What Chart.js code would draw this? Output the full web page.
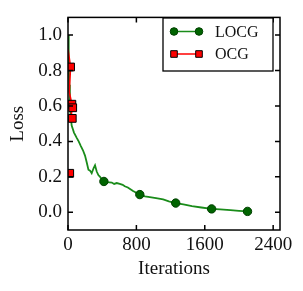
<!DOCTYPE html>
<html>
<head>
<meta charset="utf-8">
<script src="https://cdn.jsdelivr.net/npm/chart.js@4"></script>
<style>
  body { margin: 0; background: #fff; }
  canvas { display: block; }
</style>
</head>
<body>
<canvas id="lossChart" width="303" height="291"></canvas>
<script>
// LOCG loss curve (iteration, loss)
const locgIter = [0, 8, 15, 22, 30, 43, 70, 102, 125, 149, 175, 199, 220, 239, 258, 277, 300, 316, 336, 355, 375, 395, 420,
  460, 512, 540, 570, 605, 640, 664, 700, 761, 800, 840, 900, 957, 1030, 1113, 1180, 1260, 1350, 1450, 1560, 1680,
  1780, 1900, 2000, 2100];
const locgLoss = [1.0, 0.85, 0.72, 0.62, 0.55, 0.49, 0.45, 0.42, 0.40, 0.375, 0.35, 0.32, 0.28, 0.24, 0.235, 0.22, 0.25, 0.265, 0.23, 0.21, 0.20, 0.185, 0.174,
  0.17, 0.168, 0.16, 0.165, 0.16, 0.155, 0.147, 0.14, 0.12, 0.11, 0.10, 0.09, 0.086, 0.08, 0.073, 0.062, 0.052, 0.045, 0.035, 0.027, 0.019,
  0.016, 0.012, 0.008, 0.005];
const locgMarked = [420, 840, 1260, 1680, 2100];

// OCG loss (null = break in the line)
const ocgIter = [0, 30, 15, 45, 55, 40, 50, 20];
const ocgLoss = [0.92, 0.82, 0.68, 0.61, 0.59, 0.56, 0.53, null];
const ocgLast = [{ x: 20, y: 0.22 }];
const ocgMarked = [30, 45, 55, 50, 20];

const xTicks = [0, 800, 1600, 2400];
const yTicks = [0.0, 0.2, 0.4, 0.6, 0.8, 1.0];

const serif = '"Liberation Serif", "DejaVu Serif", serif';

var locgData = locgIter.map((x, i) => ({ x: x, y: locgLoss[i] }));
var ocgData = ocgIter.map((x, i) => ({ x: x, y: ocgLoss[i] })).concat(ocgLast);

// frame, inward ticks on all four sides, and the legend box
const framePlugin = {
  id: 'frame',
  afterDatasetsDraw(chart) {
    const ctx = chart.ctx;
    const a = chart.chartArea;
    const xs = chart.scales.x;
    const ys = chart.scales.y;
    ctx.save();
    ctx.strokeStyle = '#000';
    ctx.lineWidth = 1.5;
    ctx.strokeRect(a.left, a.top, a.right - a.left, a.bottom - a.top);
    ctx.beginPath();
    xTicks.forEach(v => {
      const px = xs.getPixelForValue(v);
      ctx.moveTo(px, a.bottom); ctx.lineTo(px, a.bottom - 5);
      ctx.moveTo(px, a.top); ctx.lineTo(px, a.top + 5);
    });
    yTicks.forEach(v => {
      const py = ys.getPixelForValue(v);
      ctx.moveTo(a.left, py); ctx.lineTo(a.left + 5, py);
      ctx.moveTo(a.right, py); ctx.lineTo(a.right - 5, py);
    });
    ctx.stroke();

    // legend
    const bx = 163, by = 18, bw = 110, bh = 53;
    ctx.fillStyle = '#fff';
    ctx.fillRect(bx, by, bw, bh);
    ctx.lineWidth = 1.3;
    ctx.strokeRect(bx, by, bw, bh);
    const rows = [
      { label: 'LOCG', y: 31.5, line: '#1a8c1a', fill: '#006400', shape: 'circle' },
      { label: 'OCG', y: 54, line: '#ff0000', fill: '#ff0000', shape: 'rect' }
    ];
    rows.forEach(r => {
      ctx.strokeStyle = r.line;
      ctx.lineWidth = 1.5;
      ctx.beginPath();
      ctx.moveTo(174, r.y); ctx.lineTo(199, r.y);
      ctx.stroke();
      [174, 199].forEach(mx => {
        ctx.fillStyle = r.fill;
        ctx.strokeStyle = r.shape === 'circle' ? '#004000' : '#000';
        ctx.lineWidth = 1;
        ctx.beginPath();
        if (r.shape === 'circle') {
          ctx.arc(mx, r.y, 3.8, 0, Math.PI * 2);
        } else {
          ctx.rect(mx - 3.3, r.y - 3.3, 6.6, 6.6);
        }
        ctx.fill();
        ctx.stroke();
      });
      ctx.fillStyle = '#111';
      ctx.font = '16px ' + serif;
      ctx.textBaseline = 'middle';
      ctx.textAlign = 'left';
      ctx.fillText(r.label, 215, r.y + 1);
    });
    ctx.restore();
  }
};

new Chart(document.getElementById('lossChart'), {
  type: 'line',
  data: {
    datasets: [
      {
        label: 'LOCG',
        data: locgData,
        borderColor: '#1a8c1a',
        borderWidth: 1.8,
        backgroundColor: '#006400',
        pointBackgroundColor: '#006400',
        pointBorderColor: '#004000',
        pointBorderWidth: 1,
        pointRadius: locgIter.map(x => locgMarked.includes(x) ? 4.2 : 0),
        tension: 0,
        order: 2
      },
      {
        label: 'OCG',
        data: ocgData,
        borderColor: '#ff0000',
        borderWidth: 1.6,
        pointStyle: 'rect',
        pointBackgroundColor: '#ff0000',
        pointBorderColor: '#000',
        pointBorderWidth: 1,
        pointRadius: ocgData.map(p => (p.y !== null && ocgMarked.includes(p.x)) ? 5.5 : 0),
        spanGaps: false,
        tension: 0,
        order: 1
      }
    ]
  },
  options: {
    responsive: false,
    animation: false,
    layout: { padding: { left: 0, right: 23, top: 11, bottom: 0 } },
    plugins: { legend: { display: false }, tooltip: { enabled: false } },
    scales: {
      x: {
        type: 'linear',
        min: 0,
        max: 2480,
        grid: { display: false, drawTicks: false },
        border: { display: false },
        afterBuildTicks: s => { s.ticks = xTicks.map(v => ({ value: v })); },
        afterFit: s => { s.height = 61; },
        ticks: {
          padding: 4,
          maxRotation: 0,
          autoSkip: false,
          color: '#111',
          font: { family: serif, size: 19 },
          callback: v => String(v)
        },
        title: {
          display: true,
          text: 'Iterations',
          color: '#111',
          font: { family: serif, size: 19 },
          padding: { top: 0, bottom: 11 }
        }
      },
      y: {
        type: 'linear',
        min: -0.1,
        max: 1.1,
        grid: { display: false, drawTicks: false },
        border: { display: false },
        afterBuildTicks: s => { s.ticks = yTicks.map(v => ({ value: v })); },
        afterFit: s => { s.width = 68; },
        ticks: {
          padding: 6,
          autoSkip: false,
          color: '#111',
          font: { family: serif, size: 19 },
          callback: v => Number(v).toFixed(1)
        },
        title: {
          display: true,
          text: 'Loss',
          color: '#111',
          font: { family: serif, size: 19 },
          padding: { top: 7, bottom: 0 }
        }
      }
    }
  },
  plugins: [framePlugin]
});
</script>
</body>
</html>
